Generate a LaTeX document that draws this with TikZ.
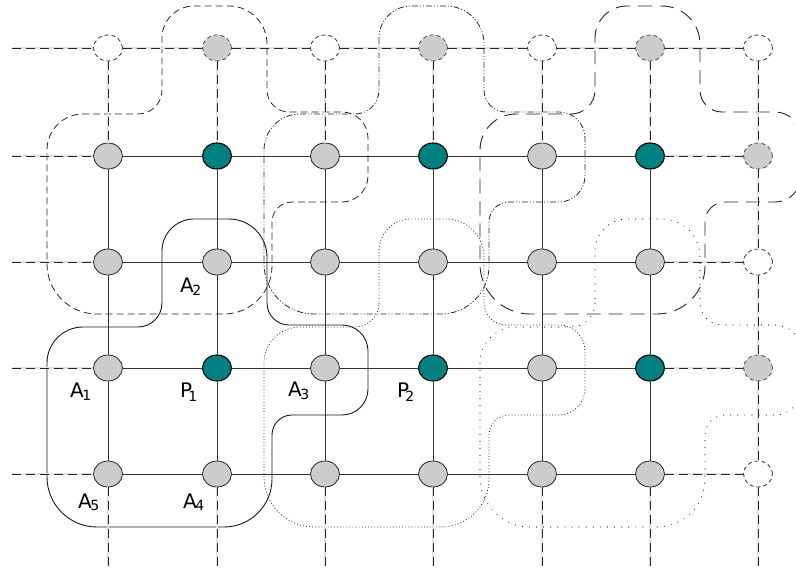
\documentclass[tikz,border=0pt]{standalone}
\usepackage{fontspec}
\setmainfont{DejaVu Sans}
\usetikzlibrary{shapes.geometric}

\tikzset{
  site/.style={ellipse, draw=black!85, line width=0.8pt, fill=black!20,
    minimum width=29pt, minimum height=26pt, inner sep=0pt},
  hub/.style={site, fill=teal, draw=black, line width=1.1pt},
  ghost/.style={site, fill=white, draw=black!80, dash pattern=on 4pt off 3pt},
  ghostfill/.style={site, draw=black!70, dash pattern=on 4pt off 3pt},
  bond/.style={draw=black!80, line width=0.9pt},
  link/.style={preaction={draw=black!12, solid, line width=1.3pt},
    draw=black!85, line width=0.9pt, dash pattern=on 9pt off 5pt},
  loopsolid/.style={draw=black!90, line width=0.9pt},
  loopdash/.style={draw=black!85, line width=0.8pt, dash pattern=on 7pt off 4pt},
  loopdashdot/.style={draw=black!85, line width=0.8pt,
    dash pattern=on 6pt off 2pt on 1pt off 2pt on 1pt off 2pt},
  looplong/.style={draw=black!85, line width=0.9pt, dash pattern=on 14pt off 8pt},
  loopdot/.style={draw=black!85, line width=0.8pt, dash pattern=on 0.9pt off 2.2pt},
  loopsparse/.style={draw=black!90, line width=1.1pt, line cap=round,
    dash pattern=on 0.1pt off 7pt},
  lab/.style={anchor=base west, inner sep=0pt, font=\fontsize{20}{20}\selectfont},
}
\newcommand\sbA[1]{\kern-1.5pt{\fontsize{14}{14}\selectfont\raisebox{-2.5pt}{#1}}}
\newcommand\sbP[1]{\kern-4pt{\fontsize{14}{14}\selectfont\raisebox{-4pt}{#1}}}

\begin{document}
\begin{tikzpicture}[x=1pt, y=-1pt]
\useasboundingbox (0,0) rectangle (796,569);
\clip (0,0) rectangle (796,569);

% plaquette contours: one outline repeated with shifts on the lattice
\foreach \dx/\dy/\sty in {0/0/loopsolid, 0/-213/loopdash, 217/-213/loopdashdot,
    433/-213/looplong, 217/0/loopdot, 433/0/loopsparse} {
  \draw[\sty, shift={(\dx,\dy)}]
    (162,280)
    [rounded corners=32pt] -- (162,219)
    [rounded corners=38pt] -- (267,219)
    [rounded corners=22pt] -- (267,325)
    [rounded corners=26pt] -- (368,325)
    [rounded corners=26pt] -- (368,415)
    [rounded corners=20pt] -- (272,415)
    [rounded corners=48pt] -- (272,527)
    [rounded corners=50pt] -- (47,527)
    [rounded corners=36pt] -- (47,327)
    [rounded corners=24pt] -- (162,327)
    -- cycle;
}

% lattice sites
\foreach \c/\x/\s in {1/108/ghost, 2/217/ghostfill, 3/325/ghost, 4/433/ghostfill,
    5/542/ghost, 6/650/ghostfill, 7/758/ghost}
  \node[\s] (n\c0) at (\x,48) {};
\foreach \c/\x/\s in {1/108/site, 2/217/hub, 3/325/site, 4/433/hub,
    5/542/site, 6/650/hub} {
  \node[\s] (n\c1) at (\x,156) {};
  \node[site] (n\c2) at (\x,262) {};
  \node[\s] (n\c3) at (\x,368) {};
  \node[site] (n\c4) at (\x,474) {};
}
\node[ghostfill] (n71) at (758,156) {};
\node[ghost] (n72) at (758,262) {};
\node[ghostfill] (n73) at (758,368) {};
\node[ghost] (n74) at (758,474) {};

% free ends of the boundary links
\foreach \r/\y in {0/48, 1/156, 2/262, 3/368, 4/474}
  \coordinate (w\r) at (12,\y);
\foreach \c/\x in {1/108, 2/217, 3/325, 4/433, 5/542, 6/650, 7/758}
  \coordinate (s\c) at (\x,566);

% solid bonds inside the lattice
\foreach \rr in {1,2,3,4} {
  \foreach \ca/\cb in {1/2, 2/3, 3/4, 4/5, 5/6} {
    \draw[bond] (n\ca\rr) -- (n\cb\rr);
  }
}
\foreach \cc in {1,2,3,4,5,6} {
  \foreach \ra/\rb in {1/2, 2/3, 3/4} {
    \draw[bond] (n\cc\ra) -- (n\cc\rb);
  }
}

% dashed boundary links
\draw[link] (w0) -- (n10);
\foreach \ca/\cb in {1/2, 2/3, 3/4, 4/5, 5/6, 6/7}
  \draw[link] (n\ca0) -- (n\cb0);
\foreach \r in {1,2,3,4} {
  \draw[link] (w\r) -- (n1\r);
  \draw[link] (n6\r) -- (n7\r);
}
\foreach \c in {1,...,6}
  \draw[link] (n\c0) -- (n\c1);
\foreach \ra/\rb in {0/1, 1/2, 2/3, 3/4}
  \draw[link] (n7\ra) -- (n7\rb);
\foreach \c in {1,...,7}
  \draw[link] (n\c4) -- (s\c);

% labels
\node[lab] (a2) at (180,293) {A\sbA{2}};
\node[lab] (a1) at (70,398) {A\sbA{1}};
\node[lab] (p1) at (180,398) {P\sbP{1}};
\node[lab] (a3) at (288,397) {A\sbA{3}};
\node[lab] (p2) at (397,398) {P\sbP{2}};
\node[lab] (a5) at (78,508) {A\sbA{5}};
\node[lab] (a4) at (183,508) {A\sbA{4}};
\end{tikzpicture}
\end{document}
